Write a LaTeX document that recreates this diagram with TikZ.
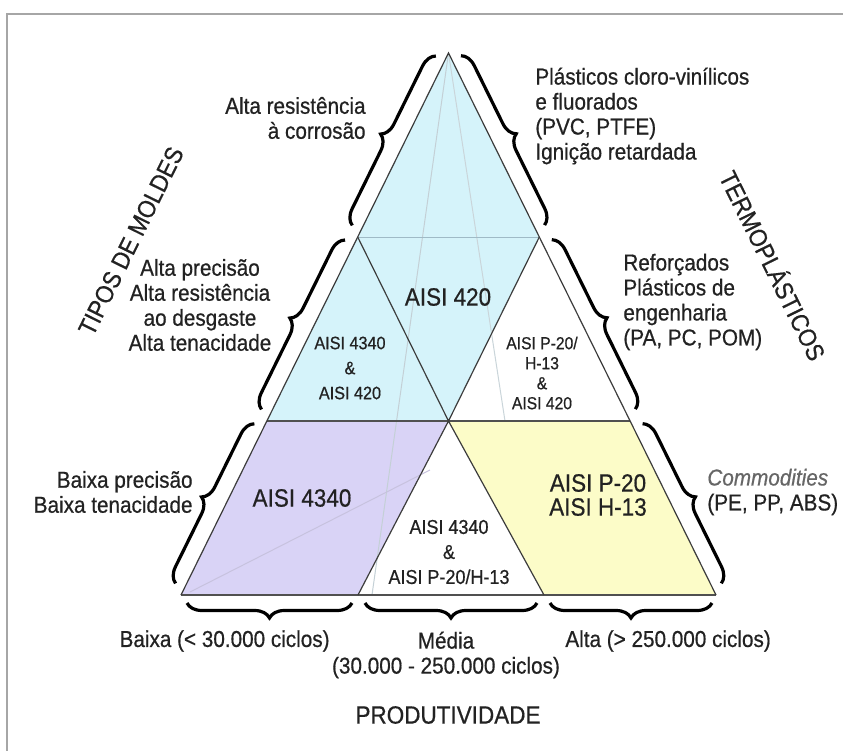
\documentclass[tikz,border=0pt]{standalone}
\usepackage{fontspec}
\setmainfont{Liberation Sans}[FakeStretch=0.9,FakeBold=0.6]
\usetikzlibrary{decorations.pathreplacing,calc}
\definecolor{cyanfill}{HTML}{D5F3FA}
\definecolor{purplefill}{HTML}{D9D3F6}
\definecolor{yellowfill}{HTML}{FCFCC8}
\definecolor{edgecol}{HTML}{3C3C3C}
\definecolor{txtcol}{HTML}{222222}
\tikzset{
  lbl/.style={text=txtcol, inner sep=0pt, font=\fontsize{11.5}{12.5}\selectfont},
  biglbl/.style={text=txtcol, inner sep=0pt, font=\fontsize{12.5}{12.5}\selectfont},
  smalllbl/.style={text=txtcol, inner sep=0pt, align=center},
  bracebig/.style={decorate, decoration={brace, amplitude=7.5pt}, line width=1.6pt, black},
  edge/.style={draw=edgecol, line width=0.6pt},
  heavyedge/.style={draw=edgecol!90, line width=1.1pt},
  ghost/.style={line width=0.5pt}
}
\begin{document}
\begin{tikzpicture}[x=0.5pt,y=-0.5pt]
\useasboundingbox (0,0) rectangle (843,751);
\fill[white] (0,0) rectangle (843,751);
% frame
\draw[gray!70, line width=0.6pt] (7,751) -- (7,14) -- (843,14);
% vertices
\coordinate (A) at (448.5,53);
\coordinate (BL) at (181,595);
\coordinate (BR) at (716,595);
\coordinate (P1) at (357.7,237);
\coordinate (P2) at (539.3,237);
\coordinate (Q1) at (266.9,421);
\coordinate (Q2) at (630.1,421);
\coordinate (M) at (448.5,421);
\coordinate (R1) at (358,595);
\coordinate (R2) at (544,595);
% fills
\fill[cyanfill] (A) -- (Q1) -- (M) -- (P2) -- cycle;
\fill[white] (P2) -- (M) -- (Q2) -- cycle;
\fill[purplefill] (Q1) -- (M) -- (R1) -- (BL) -- cycle;
\fill[white] (M) -- (R1) -- (R2) -- cycle;
\fill[yellowfill] (M) -- (Q2) -- (BR) -- (R2) -- cycle;
% faint ghost lines
\begin{scope}
\clip (A) -- (BL) -- (BR) -- cycle;
\draw[ghost, color=cyan!20!gray!45] (A) -- (372,595);
\draw[ghost, color=cyan!20!gray!40] (A) -- (505,421);
\draw[ghost, color=purplefill!80!gray] (190,592) -- (430,470);
\end{scope}
% lines
\draw[color=cyan!30!gray!70, line width=0.5pt] (P1) -- (P2);
\draw[heavyedge] (Q1) -- (Q2);
\draw[heavyedge] (BL) -- (BR);
\draw[edge] (BL) -- (A) -- (BR);
\draw[edge] (P1) -- (M) -- (P2);
\draw[edge] (R1) -- (M) -- (R2);
% braces left
\draw[bracebig] (352.3,225.4) -- (436.0,55.7);
\draw[bracebig] (261.5,409.4) -- (345.2,239.7);
\draw[bracebig] (175.6,583.4) -- (254.4,423.7);
% braces right
\draw[bracebig] (461.0,55.7) -- (544.7,225.4);
\draw[bracebig] (551.8,239.7) -- (635.5,409.4);
\draw[bracebig] (642.6,423.7) -- (721.4,583.4);
% braces bottom
\draw[bracebig] (352,603) -- (187,603);
\draw[bracebig] (537,603) -- (365,603);
\draw[bracebig] (712,603) -- (550,603);
% region labels
\node[biglbl] (l420) at (448,297) {AISI 420};
\node[smalllbl, font=\fontsize{9}{12.5}\selectfont] (lleft) at (350,368) {AISI 4340\\\&\\AISI 420};
\node[smalllbl, font=\fontsize{8.7}{10}\selectfont] (lright) at (542,373) {AISI P-20/\\H-13\\\&\\AISI 420};
\node[biglbl] (lpurple) at (302,498) {AISI 4340};
\node[biglbl, align=center, font=\fontsize{12.5}{12}\selectfont] (lyellow) at (598,495) {AISI P-20\\AISI H-13};
\node[smalllbl, font=\fontsize{10}{12.5}\selectfont] (lmid) at (449,552) {AISI 4340\\\&\\AISI P-20/H-13};
% side labels
\node[lbl, anchor=east, align=right] (t1) at (366,118) {Alta resistência\\à corrosão};
\node[lbl, anchor=west, align=left] (t2) at (535,116) {Plásticos cloro-vinílicos\\e fluorados\\(PVC, PTFE)\\Ignição retardada};
\node[lbl, align=center] (t3) at (200,305) {Alta precisão\\Alta resistência\\ao desgaste\\Alta tenacidade};
\node[lbl, anchor=west, align=left] (t4) at (623,302) {Reforçados\\Plásticos de\\engenharia\\(PA, PC, POM)};
\node[lbl, anchor=east, align=right] (t5) at (193,492) {Baixa precisão\\Baixa tenacidade};
\node[lbl, anchor=west, align=left] (t6) at (707,492) {\textcolor{black!60}{\itshape Commodities}\\(PE, PP, ABS)};
\node[lbl, anchor=east] (t7) at (330,641) {Baixa (< 30.000 ciclos)};
\node[lbl, align=center] (t8) at (446,655) {Média\\(30.000 - 250.000 ciclos)};
\node[lbl, anchor=west] (t9) at (565,641) {Alta (> 250.000 ciclos)};
% axis titles
\node[biglbl] (prod) at (448,715) {PRODUTIVIDADE};
\node[biglbl, rotate=63.7] (tipos) at (131,241) {TIPOS DE MOLDES};
\node[biglbl, rotate=-63.7] (termo) at (774,265) {TERMOPLÁSTICOS};
\end{tikzpicture}
\end{document}
